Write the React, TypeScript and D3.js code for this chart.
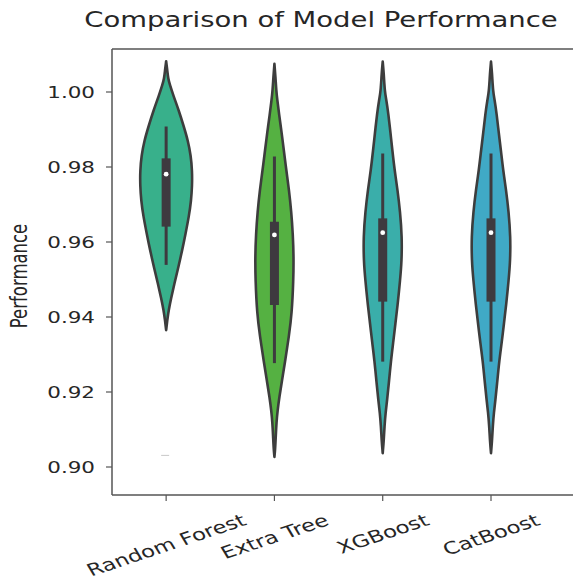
import React, { useEffect, useRef } from "react";
import * as d3 from "d3";

const models = ["Random Forest", "Extra Tree", "XGBoost", "CatBoost"];
const colors = ["#38b08b", "#55b142", "#3aaeaa", "#40a9c6"];
const yTicks = [0.9, 0.92, 0.94, 0.96, 0.98, 1.0];

// [performance, relative density]
const rfDensity = [
  [1.0082, 0], [1.006, 0.04], [1.0035, 0.08], [1.002, 0.14], [0.999, 0.28],
  [0.995, 0.49], [0.991, 0.67], [0.987, 0.84], [0.983, 0.95], [0.979, 1.0],
  [0.975, 1.0], [0.971, 0.96], [0.967, 0.88], [0.962, 0.74], [0.9579, 0.62],
  [0.953, 0.46], [0.949, 0.32], [0.945, 0.19], [0.9419, 0.1], [0.9395, 0.05],
  [0.9365, 0],
];
const etDensity = [
  [1.0075, 0], [1.004, 0.04], [1.0005, 0.07], [0.9979, 0.11], [0.994, 0.18],
  [0.989, 0.28], [0.9845, 0.36], [0.979, 0.46], [0.9739, 0.56], [0.968, 0.65],
  [0.962, 0.71], [0.956, 0.74], [0.95, 0.73], [0.941, 0.67], [0.935, 0.56],
  [0.9277, 0.4], [0.923, 0.29], [0.9187, 0.19], [0.915, 0.12], [0.912, 0.08],
  [0.908, 0.05], [0.905, 0.03], [0.9027, 0],
];
const xgbDensity = [
  [1.0081, 0], [1.005, 0.04], [1.0, 0.08], [0.9979, 0.14], [0.994, 0.22],
  [0.989, 0.3], [0.9845, 0.37], [0.979, 0.46], [0.9739, 0.57], [0.968, 0.67],
  [0.9614, 0.74], [0.955, 0.73], [0.9499, 0.67], [0.943, 0.57], [0.9384, 0.49],
  [0.933, 0.4], [0.9285, 0.32], [0.922, 0.23], [0.9179, 0.17], [0.9144, 0.11],
  [0.911, 0.07], [0.907, 0.04], [0.9037, 0],
];
const cbDensity = [
  [1.0081, 0], [1.005, 0.04], [1.0, 0.08], [0.9979, 0.14], [0.994, 0.22],
  [0.989, 0.3], [0.9845, 0.38], [0.979, 0.47], [0.9739, 0.58], [0.968, 0.68],
  [0.9614, 0.75], [0.955, 0.74], [0.9499, 0.68], [0.943, 0.58], [0.9384, 0.5],
  [0.933, 0.41], [0.9285, 0.32], [0.922, 0.23], [0.9179, 0.17], [0.9144, 0.11],
  [0.911, 0.07], [0.907, 0.04], [0.9037, 0],
];

// inner box: [lower whisker, q1, median, q3, upper whisker]
const rfBox = [0.9539, 0.9641, 0.9781, 0.9823, 0.9908];
const etBox = [0.9277, 0.9432, 0.9619, 0.9654, 0.9828];
const xgbBox = [0.9281, 0.9441, 0.9625, 0.9663, 0.9836];
const cbBox = [0.9281, 0.9441, 0.9625, 0.9663, 0.9836];

// faint stray mark under the first violin: [category index, performance]
const strayMarks = [[0, 0.9031]];

const densities = [rfDensity, etDensity, xgbDensity, cbDensity];
const boxes = [rfBox, etBox, xgbBox, cbBox];

const W = 573;
const H = 584;
const STRETCH = 1.34; // the reference is stretched sideways
const FONT = "'DejaVu Sans', sans-serif";

const App = () => {
  const svgRef = useRef(null);

  useEffect(() => {
    const svg = d3.select(svgRef.current);
    svg.selectAll("*").remove();

    const left = 112;
    const top = 49;
    const bottom = 495;

    const x = d3.scaleLinear().domain([-0.5, 3]).range([left, 491]);
    const y = d3.scaleLinear().domain([0.9, 1.0]).range([467, 92]);
    const w = d3.scaleLinear().domain([0, 1]).range([0, 26]);

    const edge = "#3d3d3d";
    const inner = "#3e3a3f";

    // violins
    densities.forEach((dens, i) => {
      const cx = x(i);
      const area = d3
        .area()
        .y((d) => y(d[0]))
        .x0((d) => cx - w(d[1]))
        .x1((d) => cx + w(d[1]))
        .curve(d3.curveBasis);
      svg
        .append("path")
        .datum(dens)
        .attr("d", area)
        .attr("fill", colors[i])
        .attr("stroke", edge)
        .attr("stroke-width", 2.6)
        .attr("stroke-linejoin", "round");

      const [lw, q1, med, q3, uw] = boxes[i];
      svg
        .append("line")
        .attr("x1", cx)
        .attr("x2", cx)
        .attr("y1", y(uw))
        .attr("y2", y(lw))
        .attr("stroke", inner)
        .attr("stroke-width", 3);
      svg
        .append("rect")
        .attr("x", cx - 4.5)
        .attr("width", 9)
        .attr("y", y(q3))
        .attr("height", y(q1) - y(q3))
        .attr("fill", inner);
      svg
        .append("circle")
        .attr("cx", cx)
        .attr("cy", y(med))
        .attr("r", 2.4)
        .attr("fill", "white");
    });

    strayMarks.forEach(([i, v]) => {
      svg
        .append("line")
        .attr("x1", x(i) - 5)
        .attr("x2", x(i) + 3)
        .attr("y1", y(v))
        .attr("y2", y(v))
        .attr("stroke", "#c8c8c8")
        .attr("stroke-width", 1);
    });

    // spines (right side runs off the picture)
    const spine = "#555";
    svg.append("line").attr("x1", left).attr("x2", W + 10).attr("y1", top).attr("y2", top)
      .attr("stroke", spine).attr("stroke-width", 1.5);
    svg.append("line").attr("x1", left).attr("x2", W + 10).attr("y1", bottom).attr("y2", bottom)
      .attr("stroke", spine).attr("stroke-width", 1.5);
    svg.append("line").attr("x1", left).attr("x2", left).attr("y1", top).attr("y2", bottom)
      .attr("stroke", spine).attr("stroke-width", 1.5);

    // y ticks
    yTicks.forEach((t) => {
      svg.append("line").attr("x1", left - 6).attr("x2", left).attr("y1", y(t)).attr("y2", y(t))
        .attr("stroke", spine).attr("stroke-width", 1.2);
      svg
        .append("text")
        .attr("transform", `translate(${left - 17},${y(t)}) scale(${STRETCH},1)`)
        .attr("text-anchor", "end")
        .attr("dominant-baseline", "central")
        .style("font-family", FONT)
        .style("font-size", "16px")
        .style("fill", "#262626")
        .text(d3.format(".2f")(t));
    });

    // x ticks and rotated labels
    const fs = 17;
    const th = (24 * Math.PI) / 180;
    models.forEach((m, i) => {
      svg.append("line").attr("x1", x(i)).attr("x2", x(i)).attr("y1", bottom).attr("y2", bottom + 6)
        .attr("stroke", spine).attr("stroke-width", 1.2);
      const t = svg
        .append("text")
        .attr("text-anchor", "middle")
        .attr("dy", "0.36em")
        .style("font-family", FONT)
        .style("font-size", `${fs}px`)
        .style("fill", "#262626")
        .text(m);
      const L = t.node().getComputedTextLength();
      const hh = (L * Math.sin(th) + 0.76 * fs * Math.cos(th)) / 2;
      t.attr("transform", `translate(${x(i)},${513 + hh}) scale(${STRETCH},1) rotate(-24)`);
    });

    // y label
    svg
      .append("text")
      .attr("transform", `translate(27,${276}) scale(${STRETCH},1) rotate(-90)`)
      .attr("text-anchor", "middle")
      .style("font-family", FONT)
      .style("font-size", "16.5px")
      .style("fill", "#262626")
      .text("Performance");

    // title
    svg
      .append("text")
      .attr("transform", `translate(321,27) scale(${STRETCH},1)`)
      .attr("text-anchor", "middle")
      .style("font-family", FONT)
      .style("font-size", "20.5px")
      .style("fill", "#262626")
      .text("Comparison of Model Performance");
  }, []);

  return (
    <div style={{ position: "absolute", left: 0, top: 0 }}>
      <svg ref={svgRef} width={W} height={H} style={{ display: "block", background: "white" }} />
    </div>
  );
};

export default App;
